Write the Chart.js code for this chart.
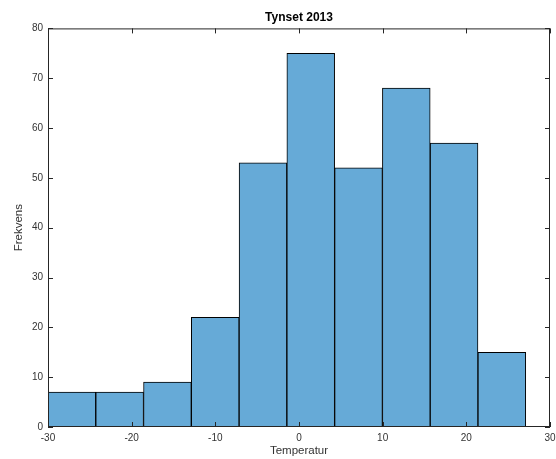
<!DOCTYPE html>
<html>
<head>
<meta charset="utf-8">
<title>Tynset 2013</title>
<script src="https://cdn.jsdelivr.net/npm/chart.js@4/dist/chart.umd.min.js"></script>
<style>
  html, body { margin: 0; padding: 0; background: #fff; }
  #wrap { width: 556px; height: 459px; }
</style>
</head>
<body>
<div id="wrap"><canvas id="hist" width="556" height="459"></canvas></div>
<script>
/* histogram data */
var binEdges = [-30, -24.29, -18.58, -12.87, -7.16, -1.45, 4.26, 9.97, 15.68, 21.39, 27.10];
var counts = [7, 7, 9, 22, 53, 75, 52, 68, 57, 15];
var xTicks = [-30, -20, -10, 0, 10, 20, 30];
var yTicks = [0, 10, 20, 30, 40, 50, 60, 70, 80];

/* bars sit on the bin centres */
var points = [];
for (var i = 0; i < counts.length; i++) {
  points.push({ x: (binEdges[i] + binEdges[i + 1]) / 2, y: counts[i] });
}

var axisColor = '#262626';
var labelFont = { family: '"Liberation Sans", Arial, sans-serif', size: 10 };

/* draws the box round the plot and the inward tick marks, matlab style */
var boxPlugin = {
  id: 'boxPlugin',
  afterDraw: function(chart) {
    var ctx = chart.ctx;
    var area = chart.chartArea;
    var xs = chart.scales.x;
    var ys = chart.scales.y;
    var len = 5;
    ctx.save();
    ctx.strokeStyle = axisColor;
    ctx.lineWidth = 1;
    ctx.strokeRect(area.left + 0.5, area.top + 0.5, area.right - area.left - 1, area.bottom - area.top - 1);
    ctx.beginPath();
    xTicks.forEach(function(v) {
      var px = Math.round(xs.getPixelForValue(v)) + 0.5;
      ctx.moveTo(px, area.bottom);
      ctx.lineTo(px, area.bottom - len);
      ctx.moveTo(px, area.top);
      ctx.lineTo(px, area.top + len);
    });
    yTicks.forEach(function(v) {
      var py = Math.round(ys.getPixelForValue(v)) + 0.5;
      ctx.moveTo(area.left, py);
      ctx.lineTo(area.left + len, py);
      ctx.moveTo(area.right, py);
      ctx.lineTo(area.right - len, py);
    });
    ctx.stroke();
    ctx.restore();
  }
};

const ctx = document.getElementById('hist');
var myChart = new Chart(ctx, {
  type: 'bar',
  data: {
    datasets: [{
      label: 'Frekvens',
      data: points,
      backgroundColor: 'rgb(102, 170, 215)',
      borderColor: '#000',
      borderWidth: 1,
      borderSkipped: false,
      barPercentage: 1,
      categoryPercentage: 1
    }]
  },
  options: {
    responsive: false,
    animation: false,
    devicePixelRatio: 1,
    layout: {
      padding: { left: 0, right: 6, top: 0, bottom: 0 }
    },
    plugins: {
      legend: { display: false },
      tooltip: { enabled: false },
/* fullSize false so the title is centred over the plot, not the canvas */
      title: {
        display: true,
        fullSize: false,
        text: 'Tynset 2013',
        color: '#000',
        font: { family: '"Liberation Sans", Arial, sans-serif', size: 12, weight: 'bold' },
        padding: { top: 10, bottom: 4 }
      }
    },
    scales: {
      x: {
        type: 'linear',
        offset: false,
        min: -30,
        max: 30,
        afterFit: function(scale) {
          scale.height = 32;
          scale.paddingLeft = 0;
          scale.paddingRight = 0;
        },
        afterBuildTicks: function(scale) {
          scale.ticks = xTicks.map(function(v) { return { value: v }; });
        },
        grid: { display: false, drawTicks: false, offset: false },
        border: { display: false },
        ticks: { color: '#333', font: labelFont, padding: 5, maxRotation: 0 },
        title: {
          display: true,
          text: 'Temperatur',
          color: '#333',
          font: { family: '"Liberation Sans", Arial, sans-serif', size: 11.5 },
          padding: { top: 0, bottom: 1 }
        }
      },
      y: {
        min: 0,
        max: 80,
        afterFit: function(scale) {
          scale.width = 48;
          scale.paddingTop = 0;
          scale.paddingBottom = 0;
        },
        afterBuildTicks: function(scale) {
          scale.ticks = yTicks.map(function(v) { return { value: v }; });
        },
        grid: { display: false, drawTicks: false },
        border: { display: false },
        ticks: { color: '#333', font: labelFont, padding: 5 },
        title: {
          display: true,
          text: 'Frekvens',
          color: '#333',
          font: { family: '"Liberation Sans", Arial, sans-serif', size: 11.5 },
          padding: { top: 12, bottom: 0 }
        }
      }
    }
  },
  plugins: [boxPlugin]
});
</script>
</body>
</html>
